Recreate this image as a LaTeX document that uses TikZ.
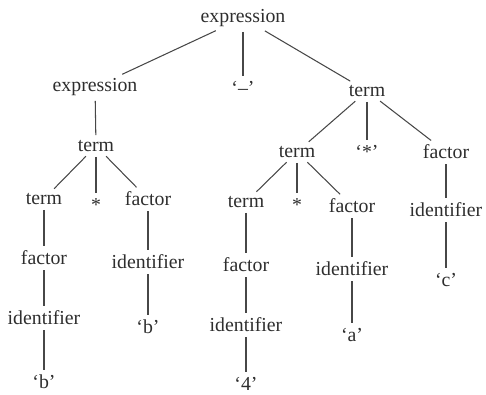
\documentclass[tikz,border=0pt]{standalone}
\usepackage{fontspec}
\setmainfont{Liberation Serif}
\begin{document}
\begin{tikzpicture}[x=1pt,y=-1pt,
  lbl/.style={font=\fontsize{19.8}{23}\selectfont, inner sep=3pt, text=black!82},
  edge/.style={draw=black!72, line width=1.05pt, shorten <=2pt, shorten >=2pt}]
\useasboundingbox (0,0) rectangle (486,395);
% row 1
\node[lbl] (root) at (243,18) {expression};
% row 2
\node[lbl] (expL) at (95,87) {expression};
\node[lbl] (minus) at (243,88) {‘–’};
\node[lbl] (termR) at (367,91) {term};
% row 3
\node[lbl] (termL) at (96,146) {term};
\node[lbl] (termM) at (297,152) {term};
\node[lbl] (starR) at (367,152) {‘*’};
\node[lbl] (factorR) at (446,152) {factor};
% row 4
\node[lbl] (termLL) at (44,199) {term};
\node[lbl] (starL) at (96,205) {*};
\node[lbl] (factorL) at (148,199) {factor};
\node[lbl] (termMM) at (246,202) {term};
\node[lbl] (starM) at (297,205) {*};
\node[lbl] (factorM) at (352,206) {factor};
\node[lbl] (identR) at (446,210) {identifier};
% row 5
\node[lbl] (factorLL) at (44,258) {factor};
\node[lbl] (identL) at (148,262) {identifier};
\node[lbl] (factorMM) at (246,265) {factor};
\node[lbl] (identM) at (352,269) {identifier};
\node[lbl] (c) at (446,280) {‘c’};
% row 6
\node[lbl] (identLL) at (44,318) {identifier};
\node[lbl] (bL) at (148,327) {‘b’};
\node[lbl] (identMM) at (246,325) {identifier};
\node[lbl] (a) at (352,335) {‘a’};
% row 7
\node[lbl] (bLL) at (44,382) {‘b’};
\node[lbl] (four) at (246,384) {‘4’};
% edges
\draw[edge] (root) -- (expL);
\draw[edge] (root) -- (minus);
\draw[edge] (root) -- (termR);
\draw[edge] (expL) -- (termL);
\draw[edge] (termL) -- (termLL);
\draw[edge] (termL) -- (starL);
\draw[edge] (termL) -- (factorL);
\draw[edge] (termLL) -- (factorLL);
\draw[edge] (factorLL) -- (identLL);
\draw[edge] (identLL) -- (bLL);
\draw[edge] (factorL) -- (identL);
\draw[edge] (identL) -- (bL);
\draw[edge] (termR) -- (termM);
\draw[edge] (termR) -- (starR);
\draw[edge] (termR) -- (factorR);
\draw[edge] (termM) -- (termMM);
\draw[edge] (termM) -- (starM);
\draw[edge] (termM) -- (factorM);
\draw[edge] (termMM) -- (factorMM);
\draw[edge] (factorMM) -- (identMM);
\draw[edge] (identMM) -- (four);
\draw[edge] (factorM) -- (identM);
\draw[edge] (identM) -- (a);
\draw[edge] (factorR) -- (identR);
\draw[edge] (identR) -- (c);
\end{tikzpicture}
\end{document}
